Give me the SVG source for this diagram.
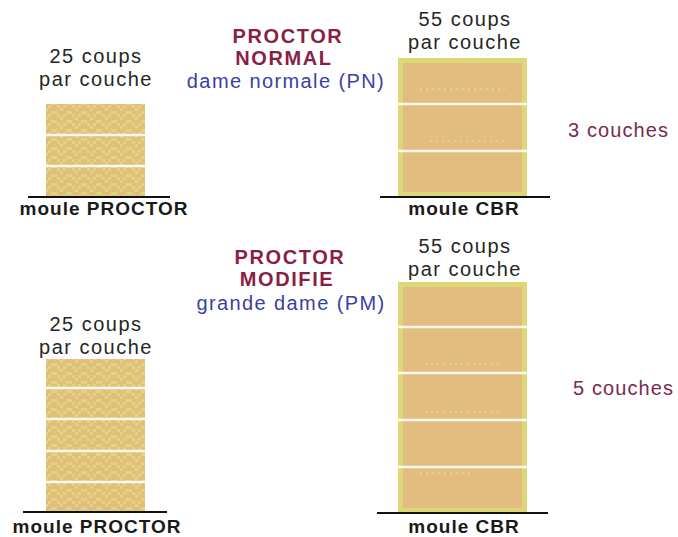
<svg xmlns="http://www.w3.org/2000/svg" width="678" height="537" viewBox="0 0 678 537">
  <style>
    text { font-family: "Liberation Sans", Arial, sans-serif; }
    .blows { font-size: 20px; fill: #262626; letter-spacing: 1.5px; text-anchor: middle; }
    .mould { font-size: 19px; font-weight: bold; fill: #1a1a1a; letter-spacing: 1px; text-anchor: middle; }
    .title { font-size: 20px; font-weight: bold; fill: #8a1e45; letter-spacing: 1.6px; text-anchor: middle; }
    .rammer { font-size: 20px; fill: #3a3fa6; letter-spacing: 1.4px; text-anchor: middle; }
    .layers { font-size: 20px; fill: #7a2a4e; letter-spacing: 1.1px; }
    .base { stroke: #111; stroke-width: 2; }
    .sep { stroke: #fbf8ee; stroke-width: 2.4; }
    .soilP { fill: url(#speckle); }
    .soilC { fill: #e3bc80; stroke: #dcd878; stroke-width: 5; }
    .grain { stroke: #dcd878; stroke-width: 2; stroke-dasharray: 2 4; }
  </style>
  <defs>
    <!-- compacted soil, fine speckled texture -->
    <pattern id="speckle" width="15" height="9" patternUnits="userSpaceOnUse">
      <rect width="15" height="9" fill="#e3bc80"/>
      <rect x="0" y="0" width="3" height="3" fill="#dcd878"/>
      <rect x="6" y="3" width="6" height="3" fill="#dcd878"/>
      <rect x="12" y="6" width="3" height="3" fill="#dcd878"/>
      <rect x="3" y="6" width="3" height="3" fill="#dcd878"/>
    </pattern>
  </defs>

  <rect width="678" height="537" fill="#ffffff"/>

  <!-- Standard Proctor, Proctor mould, 3 layers -->
  <g id="pn-proctor">
    <text class="blows" x="96" y="63">25 coups</text>
    <text class="blows" x="96" y="86">par couche</text>
    <rect class="soilP" x="46" y="104" width="99" height="92"/>
    <line class="sep" x1="46" y1="135" x2="145" y2="135"/>
    <line class="sep" x1="46" y1="166" x2="145" y2="166"/>
    <line class="base" x1="28" y1="197" x2="170" y2="197"/>
    <text class="mould" x="104" y="215">moule PROCTOR</text>
  </g>

  <!-- Standard Proctor heading -->
  <g id="pn-title">
    <text class="title" x="288" y="43">PROCTOR</text>
    <text class="title" x="284" y="65">NORMAL</text>
    <text class="rammer" x="286" y="88">dame normale (PN)</text>
  </g>

  <!-- Standard Proctor, CBR mould, 3 layers -->
  <g id="pn-cbr">
    <text class="blows" x="465" y="26">55 coups</text>
    <text class="blows" x="465" y="49">par couche</text>
    <rect class="soilC" x="400.5" y="60.5" width="124" height="134"/>
    <line class="grain" x1="420" y1="89" x2="505" y2="89"/>
    <line class="grain" x1="430" y1="141" x2="505" y2="141"/>
    <line class="sep" x1="398" y1="104" x2="527" y2="104"/>
    <line class="sep" x1="398" y1="151" x2="527" y2="151"/>
    <line class="base" x1="380" y1="197" x2="550" y2="197"/>
    <text class="mould" x="464" y="215">moule CBR</text>
  </g>

  <g id="pn-layers">
    <text class="layers" x="568" y="137">3 couches</text>
  </g>

  <!-- Modified Proctor heading -->
  <g id="pm-title">
    <text class="title" x="290" y="264">PROCTOR</text>
    <text class="title" x="287" y="286">MODIFIE</text>
    <text class="rammer" x="291" y="310">grande dame (PM)</text>
  </g>

  <!-- Modified Proctor, Proctor mould, 5 layers -->
  <g id="pm-proctor">
    <text class="blows" x="96" y="331">25 coups</text>
    <text class="blows" x="96" y="354">par couche</text>
    <rect class="soilP" x="46" y="359" width="99" height="152"/>
    <line class="sep" x1="46" y1="388" x2="145" y2="388"/>
    <line class="sep" x1="46" y1="419" x2="145" y2="419"/>
    <line class="sep" x1="46" y1="451" x2="145" y2="451"/>
    <line class="sep" x1="46" y1="482" x2="145" y2="482"/>
    <line class="base" x1="23" y1="512" x2="167" y2="512"/>
    <text class="mould" x="97" y="533">moule PROCTOR</text>
  </g>

  <!-- Modified Proctor, CBR mould, 5 layers -->
  <g id="pm-cbr">
    <text class="blows" x="465" y="253">55 coups</text>
    <text class="blows" x="465" y="276">par couche</text>
    <rect class="soilC" x="400.5" y="284.5" width="124" height="226"/>
    <line class="grain" x1="425" y1="364" x2="500" y2="364"/>
    <line class="grain" x1="425" y1="412" x2="500" y2="412"/>
    <line class="grain" x1="420" y1="473" x2="470" y2="473"/>
    <line class="sep" x1="398" y1="327" x2="527" y2="327"/>
    <line class="sep" x1="398" y1="373" x2="527" y2="373"/>
    <line class="sep" x1="398" y1="420" x2="527" y2="420"/>
    <line class="sep" x1="398" y1="467" x2="527" y2="467"/>
    <line class="base" x1="377" y1="513" x2="548" y2="513"/>
    <text class="mould" x="464" y="533">moule CBR</text>
  </g>

  <g id="pm-layers">
    <text class="layers" x="573" y="395">5 couches</text>
  </g>

  <!-- no connectors in this figure -->
  <g id="connectors"/>
</svg>
